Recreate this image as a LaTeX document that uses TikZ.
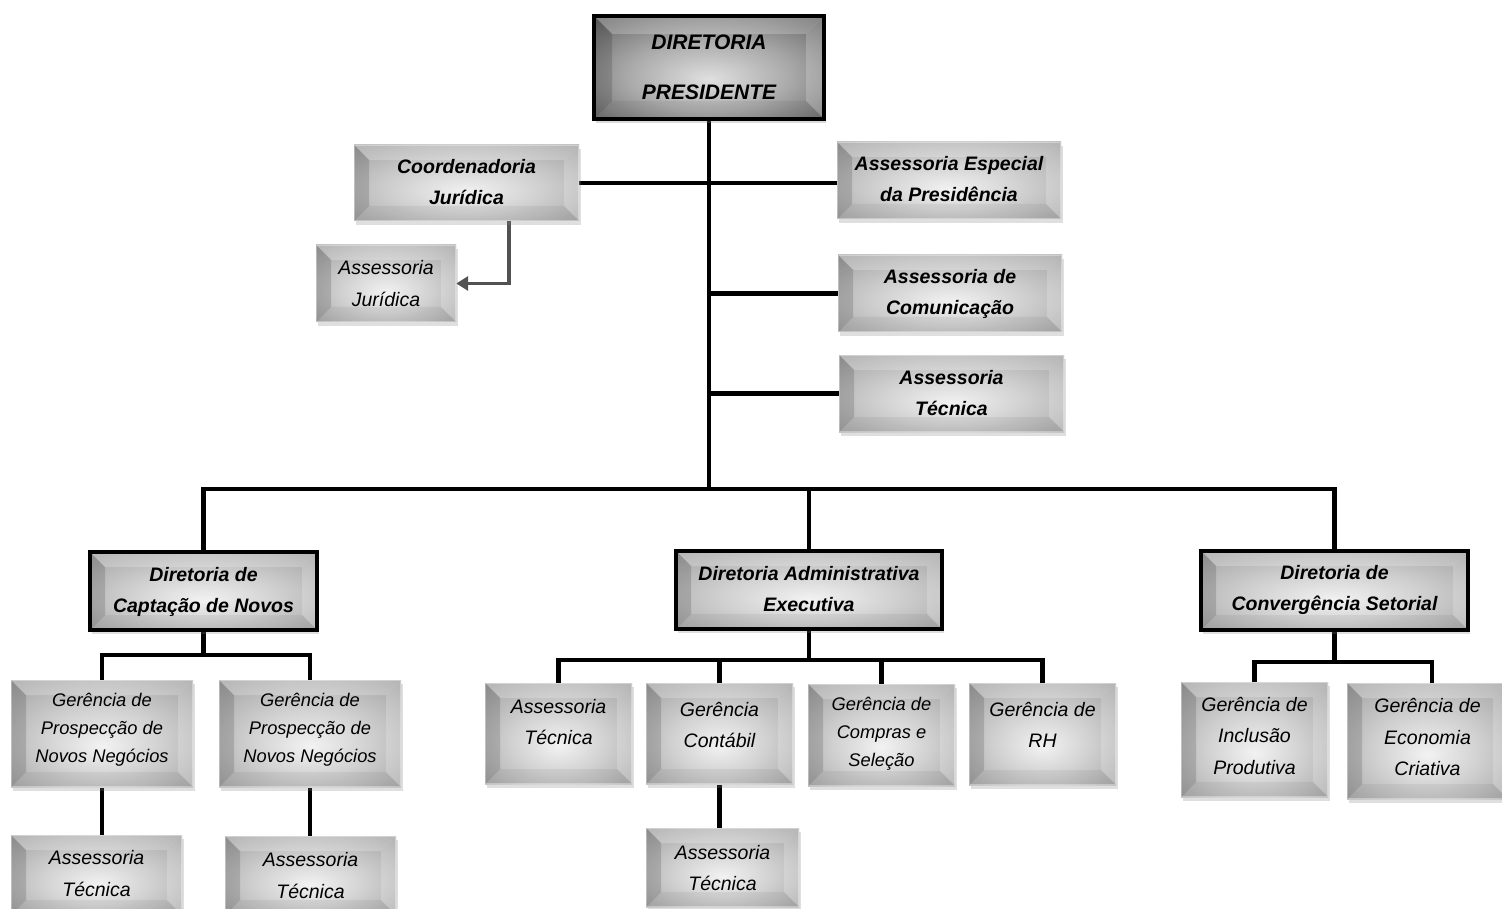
\documentclass[tikz,border=0pt]{standalone}
\usepackage{fontspec}
\setmainfont{Liberation Sans}
\usetikzlibrary{arrows.meta,shadows,calc}
\pgfdeclarelayer{bg}
\pgfsetlayers{bg,main}
\pgfdeclareradialshading{bevshade}{\pgfpoint{0bp}{-6bp}}{color(0bp)=(black!5); color(16bp)=(black!18); color(38bp)=(black!38); color(60bp)=(black!48)}
\pgfdeclareradialshading{presshade}{\pgfpoint{0bp}{-6bp}}{color(0bp)=(black!12); color(18bp)=(black!34); color(42bp)=(black!70); color(60bp)=(black!80)}
\tikzset{
  bevel/.style={path picture={
    \coordinate (nw) at (path picture bounding box.north west);
    \coordinate (ne) at (path picture bounding box.north east);
    \coordinate (sw) at (path picture bounding box.south west);
    \coordinate (se) at (path picture bounding box.south east);
    \coordinate (inw) at ([shift={(#1pt,-#1pt)}]nw);
    \coordinate (ine) at ([shift={(-#1pt,-#1pt)}]ne);
    \coordinate (isw) at ([shift={(#1pt,#1pt)}]sw);
    \coordinate (ise) at ([shift={(-#1pt,#1pt)}]se);
    \fill[white,opacity=0.22] (nw) -- (ne) -- (ine) -- (inw) -- cycle;
    \fill[black,opacity=0.14] (nw) -- (inw) -- (isw) -- (sw) -- cycle;
    \fill[white,opacity=0.20] (ne) -- (se) -- (ise) -- (ine) -- cycle;
    \fill[black,opacity=0.05] (sw) -- (isw) -- (ise) -- (se) -- cycle;
    \draw[white,opacity=0.35,line width=2pt] (nw) rectangle (se);
  }},
  bev/.style={shade, shading=bevshade, inner sep=0pt, bevel=15,
    drop shadow={opacity=0.25, shadow xshift=2pt, shadow yshift=-4pt}},
  dir/.style={bev, bevel=15, draw=black, line width=4pt},
  pres/.style={shade, shading=presshade, inner sep=0pt, bevel=18, draw=black, line width=4.5pt,
    drop shadow={opacity=0.28, shadow xshift=2pt, shadow yshift=-4pt}},
  tb/.style={font=\fontsize{19.5}{31}\selectfont\bfseries\itshape, align=center, inner sep=0pt},
  tr/.style={font=\fontsize{19.5}{31.5}\selectfont\itshape, align=center, inner sep=0pt},
  trs/.style={font=\fontsize{18.3}{28}\selectfont\itshape, align=center, inner sep=0pt},
  tp/.style={font=\fontsize{21}{50}\selectfont\bfseries\itshape, align=center, inner sep=0pt},
  conn/.style={line width=4.5pt, black, line join=miter},
  garrow/.style={line width=3.5pt, black!68, line join=miter, -{Triangle[length=12pt,width=14pt]}}
}
\newcommand\orgbox[9]{%
  \node[#2, minimum width={(#5-#3)*1pt}, minimum height={(#6-#4)*1pt}] (#1) at ({(#3+#5)/2},{(#4+#6)/2}) {};
  \node[#8] (#1-t) at ({(#3+#5)/2},#7) {#9};}
\begin{document}
\begin{tikzpicture}[x=1pt,y=-1pt]
\useasboundingbox (0,0) rectangle (1502,909);
\begin{pgfonlayer}{bg}
\fill[white] (0,0) rectangle (1502,909);
\end{pgfonlayer}
\orgbox{pres}{pres}{594}{16}{824}{119}{67}{tp}{DIRETORIA\\PRESIDENTE}
\orgbox{coord}{bev}{354}{145}{579}{221}{182.5}{tb}{Coordenadoria\\Jurídica}
\orgbox{asj}{bev}{316}{245}{456}{322}{283.5}{tr}{Assessoria\\Jurídica}
\orgbox{esp}{bev}{837}{142}{1061}{219}{179.5}{tb}{Assessoria Especial\\da Presidência}
\orgbox{com}{bev}{838}{255}{1062}{332}{293.5}{tb}{Assessoria de\\Comunicação}
\orgbox{tec}{bev}{839}{355}{1064}{432}{393.5}{tb}{Assessoria\\Técnica}
\orgbox{capt}{dir}{90}{552}{317}{630}{591.5}{tb}{Diretoria de\\Captação de Novos}
\orgbox{adm}{dir}{676}{551}{942}{629}{589.5}{tb}{Diretoria Administrativa\\Executiva}
\orgbox{conv}{dir}{1201}{551}{1468}{630}{590}{tb}{Diretoria de\\Convergência Setorial}
\orgbox{ga}{bev}{11}{680}{193}{787}{730}{trs}{Gerência de\\Prospecção de\\Novos Negócios}
\orgbox{gb}{bev}{219}{680}{401}{787}{730}{trs}{Gerência de\\Prospecção de\\Novos Negócios}
\orgbox{ata}{bev}{11}{835}{182}{915}{873.5}{tr}{Assessoria\\Técnica}
\orgbox{atb}{bev}{225}{836}{396}{915}{875.5}{tr}{Assessoria\\Técnica}
\orgbox{atc}{bev}{485}{683}{632}{784}{722}{tr}{Assessoria\\Técnica}
\orgbox{cont}{bev}{646}{683}{793}{784}{725}{tr}{Gerência\\Contábil}
\orgbox{comp}{bev}{808}{684}{955}{786}{734}{trs}{Gerência de\\Compras e\\Seleção}
\orgbox{rh}{bev}{969}{683}{1116}{785}{725}{tr}{Gerência de\\RH}
\orgbox{atd}{bev}{646}{828}{799}{907}{868}{tr}{Assessoria\\Técnica}
\orgbox{incl}{bev}{1181}{682}{1328}{797}{735.5}{tr}{Gerência de\\Inclusão\\Produtiva}
\orgbox{econ}{bev}{1347}{683}{1508}{799}{737}{tr}{Gerência de\\Economia\\Criativa}
\coordinate (busy) at (0,489);
\coordinate (cb) at (0,655);
\coordinate (ab) at (0,660);
\coordinate (vb) at (0,662);
\coordinate (jx) at (509,0);
\begin{pgfonlayer}{bg}
\draw[conn] (pres.south) -- (pres.south |- busy);
\draw[conn] (coord.east) -- (coord.east -| esp.west);
\draw[conn] (pres.south |- com.west) -- (com.west);
\draw[conn] (pres.south |- tec.west) -- (tec.west);
\draw[conn] (capt.north) -- (capt.north |- busy) -- (conv.north |- busy) -- (conv.north);
\draw[conn] (adm.north) -- (adm.north |- busy);
\draw[garrow] (coord.south -| jx) |- (asj.east);
\draw[conn] (capt.south) -- (capt.south |- cb);
\draw[conn] (ga.north) -- (ga.north |- cb) -- (gb.north |- cb) -- (gb.north);
\draw[conn] (ga.south) -- (ga.south |- ata.north);
\draw[conn] (gb.south) -- (gb.south |- atb.north);
\draw[conn] (adm.south) -- (adm.south |- ab);
\draw[conn] (atc.north) -- (atc.north |- ab) -- (rh.north |- ab) -- (rh.north);
\draw[conn] (cont.north) -- (cont.north |- ab);
\draw[conn] (comp.north) -- (comp.north |- ab);
\draw[conn] (cont.south) -- (cont.south |- atd.north);
\draw[conn] (conv.south) -- (conv.south |- vb);
\draw[conn] (incl.north) -- (incl.north |- vb) -- ([xshift=4.5pt]econ.north |- vb) -- ([xshift=4.5pt]econ.north);
\end{pgfonlayer}
\end{tikzpicture}
\end{document}
